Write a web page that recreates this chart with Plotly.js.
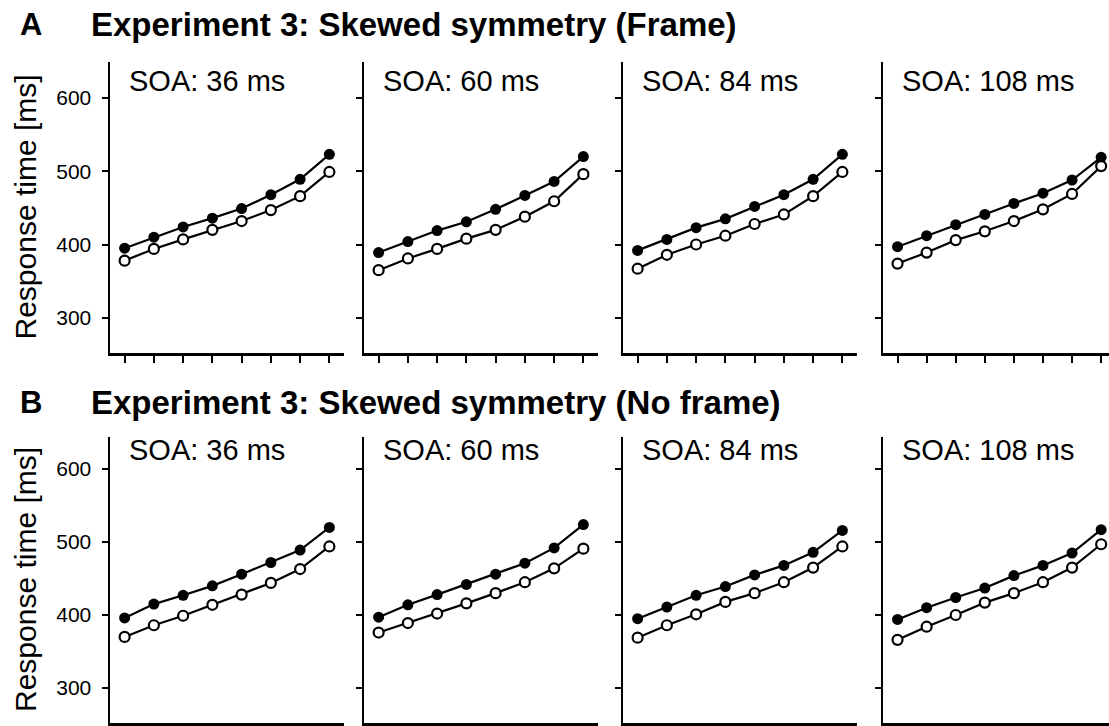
<!DOCTYPE html>
<html>
<head>
<meta charset="utf-8">
<script src="https://cdn.plot.ly/plotly-3.0.1.min.js"></script>
<style>html,body{margin:0;padding:0;background:#fff;}#chart{width:1109px;height:726px;}</style>
</head>
<body>
<div id="chart"></div>
<script>
// ---- data ----
const xLevels = [1, 2, 3, 4, 5, 6, 7, 8];
const soaLabels = ['SOA: 36 ms', 'SOA: 60 ms', 'SOA: 84 ms', 'SOA: 108 ms'];
const yTicks = [300, 400, 500, 600];
const rowTitles = ['Experiment 3: Skewed symmetry (Frame)', 'Experiment 3: Skewed symmetry (No frame)'];
const rowLetters = ['A', 'B'];
const yLabel = 'Response time [ms]';

// Row A (Frame): filled and open symbols, per SOA
const frameFilled36  = [395, 410, 424, 436, 449, 468, 489, 523];
const frameFilled60  = [389, 404, 419, 431, 448, 467, 486, 520];
const frameFilled84  = [392, 407, 423, 435, 452, 468, 489, 523];
const frameFilled108 = [397, 412, 427, 441, 456, 470, 488, 519];
const frameOpen36    = [378, 394, 407, 420, 432, 447, 466, 499];
const frameOpen60    = [365, 381, 394, 408, 420, 438, 459, 496];
const frameOpen84    = [367, 386, 400, 412, 428, 441, 466, 499];
const frameOpen108   = [374, 389, 406, 418, 432, 448, 469, 507];

// Row B (No frame)
const noFrameFilled36  = [396, 415, 427, 440, 456, 472, 489, 520];
const noFrameFilled60  = [397, 414, 428, 442, 456, 471, 492, 524];
const noFrameFilled84  = [395, 411, 427, 439, 455, 468, 486, 516];
const noFrameFilled108 = [394, 410, 424, 437, 454, 468, 485, 517];
const noFrameOpen36    = [370, 386, 399, 414, 428, 444, 463, 494];
const noFrameOpen60    = [376, 389, 402, 416, 430, 445, 464, 491];
const noFrameOpen84    = [369, 386, 401, 418, 430, 445, 465, 494];
const noFrameOpen108   = [366, 384, 400, 417, 430, 445, 465, 497];

const filledRows = [
  [frameFilled36, frameFilled60, frameFilled84, frameFilled108],
  [noFrameFilled36, noFrameFilled60, noFrameFilled84, noFrameFilled108]
];
const openRows = [
  [frameOpen36, frameOpen60, frameOpen84, frameOpen108],
  [noFrameOpen36, noFrameOpen60, noFrameOpen84, noFrameOpen108]
];

// ---- layout geometry (pixels) ----
const W = 1109, H = 726;
const colPx = [[110, 344], [364, 598], [623, 857], [883, 1109]];
const colRange = [[0.5, 8.5], [0.5, 8.5], [0.5, 8.5], [0.5, 8.27]];
const rowPx = [[62, 353], [437, 723]];
const rowYRange = [[252, 649], [252, 644]];
const FONT = 'Liberation Sans, Arial, sans-serif';

const px = v => v / W;
const py = v => 1 - v / H;

const data = [];
const layout = {
  width: W, height: H,
  margin: {l: 0, r: 0, t: 0, b: 0},
  paper_bgcolor: '#fff', plot_bgcolor: '#fff',
  showlegend: false,
  font: {family: FONT, color: '#000', size: 21},
  annotations: []
};

let n = 0;
for (let r = 0; r < 2; r++) {
  for (let c = 0; c < 4; c++) {
    n++;
    const xa = 'x' + (n === 1 ? '' : n);
    const ya = 'y' + (n === 1 ? '' : n);
    const xk = 'xaxis' + (n === 1 ? '' : n);
    const yk = 'yaxis' + (n === 1 ? '' : n);
    layout[xk] = {
      domain: [px(colPx[c][0]), px(colPx[c][1])],
      range: colRange[c],
      anchor: ya,
      showline: true, linewidth: 2.5, linecolor: '#000',
      ticks: 'outside', ticklen: 7, tickwidth: 2, tickcolor: '#000',
      tickvals: xLevels, showticklabels: false,
      showgrid: false, zeroline: false, fixedrange: true
    };
    layout[yk] = {
      domain: [py(rowPx[r][1]), py(rowPx[r][0])],
      range: rowYRange[r],
      anchor: xa,
      showline: true, linewidth: 2.5, linecolor: '#000',
      ticks: 'outside', ticklen: 6, tickwidth: 2, tickcolor: '#000',
      tickmode: 'array', tickvals: yTicks, ticktext: yTicks.map(String), showticklabels: c === 0,
      ticklabelstandoff: 6,
      tickfont: {family: FONT, size: 21, color: '#000'},
      showgrid: false, zeroline: false, fixedrange: true
    };
    data.push({
      x: xLevels, y: filledRows[r][c], xaxis: xa, yaxis: ya,
      type: 'scatter', mode: 'lines+markers', cliponaxis: false,
      line: {color: '#000', width: 2.2},
      marker: {symbol: 'circle', size: 11, color: '#000'}
    });
    data.push({
      x: xLevels, y: openRows[r][c], xaxis: xa, yaxis: ya,
      type: 'scatter', mode: 'lines+markers', cliponaxis: false,
      line: {color: '#000', width: 2.2},
      marker: {symbol: 'circle', size: 10, color: '#fff', line: {color: '#000', width: 2.2}}
    });
    layout.annotations.push({
      xref: 'paper', yref: 'paper',
      x: px(colPx[c][0] + 17), y: py(rowPx[r][0] + (r === 0 ? 19 : 13)),
      xanchor: 'left', yanchor: 'middle', showarrow: false,
      text: soaLabels[c], font: {family: FONT, size: 29, color: '#000'}
    });
  }
  // row letter and title
  const titleY = r === 0 ? 24 : 402;
  layout.annotations.push({
    xref: 'paper', yref: 'paper', x: px(18), y: py(titleY),
    xanchor: 'left', yanchor: 'middle', showarrow: false,
    text: '<b>' + rowLetters[r] + '</b>', font: {family: FONT, size: 31, color: '#000'}
  });
  layout.annotations.push({
    xref: 'paper', yref: 'paper', x: px(89), y: py(titleY),
    xanchor: 'left', yanchor: 'middle', showarrow: false,
    text: '<b>' + rowTitles[r] + '</b>', font: {family: FONT, size: 33, color: '#000'}
  });
  // y-axis title
  layout.annotations.push({
    xref: 'paper', yref: 'paper', x: px(25), y: py((rowPx[r][0] + rowPx[r][1]) / 2),
    xanchor: 'center', yanchor: 'middle', showarrow: false, textangle: -90,
    text: yLabel, font: {family: FONT, size: 30, color: '#000'}
  });
}

Plotly.newPlot('chart', data, layout, {displayModeBar: false, staticPlot: true});
</script>
</body>
</html>
